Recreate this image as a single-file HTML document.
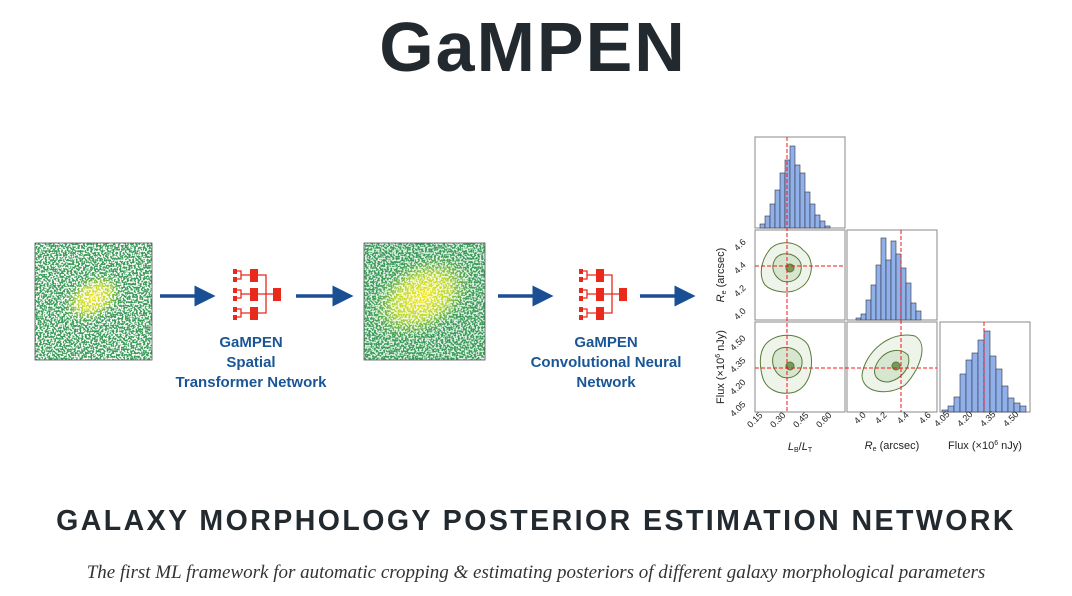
<!DOCTYPE html>
<html><head><meta charset="utf-8"><style>
body{margin:0;width:1072px;height:596px;background:#fff;position:relative;overflow:hidden;font-family:"Liberation Sans",sans-serif}
.t{position:absolute;left:0;width:1072px;text-align:center;white-space:nowrap}
.lbl{position:absolute;color:#1a5696;font-weight:bold;font-size:15px;line-height:20px;text-align:center;width:200px}
</style></head><body>
<div class="t" style="top:2px;font-size:70px;font-weight:bold;color:#22292f;letter-spacing:2px;line-height:90px;left:-3px">GaMPEN</div>
<div class="t" style="top:504px;font-size:28.5px;font-weight:bold;color:#22292f;letter-spacing:2.45px;line-height:34px">GALAXY MORPHOLOGY POSTERIOR ESTIMATION NETWORK</div>
<div class="t" style="top:562px;font-family:'Liberation Serif',serif;font-style:italic;font-size:19px;color:#333;line-height:22px">The first ML framework for automatic cropping &amp; estimating posteriors of different galaxy morphological parameters</div>
<div class="lbl" style="left:151px;top:333px">GaMPEN<br>Spatial<br>Transformer Network</div>
<div class="lbl" style="left:506px;top:333px">GaMPEN<br>Convolutional Neural<br>Network</div>
<svg width="1072" height="596" style="position:absolute;left:0;top:0" font-family="Liberation Sans, sans-serif">
<defs>
<filter id="n" x="0" y="0" width="100%" height="100%">
<feTurbulence type="fractalNoise" baseFrequency="0.55" numOctaves="1" seed="3"/>
<feColorMatrix type="matrix" values="0 0 0 0 1  0 0 0 0 1  0 0 0 0 1  0 0 0 8 -3.6"/>
</filter>
<radialGradient id="g1"><stop offset="0" stop-color="#f6e81a"/><stop offset="0.5" stop-color="#b5d734"/><stop offset="1" stop-color="#3fa55a" stop-opacity="0"/></radialGradient>
<marker id="ah" markerWidth="6" markerHeight="6" refX="5" refY="3" orient="auto" markerUnits="strokeWidth"><path d="M0,0L6,3L0,6z" fill="#1a4f93"/></marker>
<g id="net" fill="#e8291c" stroke="#e8291c" stroke-width="1.3">
<rect x="0" y="0" width="4" height="5" stroke="none"/><rect x="0" y="8" width="4" height="5" stroke="none"/>
<rect x="0" y="19" width="4" height="5" stroke="none"/><rect x="0" y="27" width="4" height="5" stroke="none"/>
<rect x="0" y="38" width="4" height="5" stroke="none"/><rect x="0" y="46" width="4" height="5" stroke="none"/>
<rect x="17" y="0" width="8" height="13" stroke="none"/><rect x="17" y="19" width="8" height="13" stroke="none"/><rect x="17" y="38" width="8" height="13" stroke="none"/>
<rect x="40" y="19" width="8" height="13" stroke="none"/>
<path d="M4,2H8V10H4M8,6H17M4,21H8V29H4M8,25H17M4,40H8V48H4M8,44H17M25,6H33V44H25M25,25H40" fill="none"/>
</g>
</defs>
<rect x="35" y="243" width="117" height="117" fill="#3a9c58"/>
<ellipse cx="93" cy="298" rx="36" ry="24" transform="rotate(-30 93 298)" fill="url(#g1)"/>
<rect x="35" y="243" width="117" height="117" filter="url(#n)"/>
<rect x="35" y="243" width="117" height="117" fill="none" stroke="#555" stroke-width="0.8"/>
<rect x="364" y="243" width="121" height="117" fill="#3a9c58"/>
<ellipse cx="422" cy="297" rx="60" ry="40" transform="rotate(-30 422 297)" fill="url(#g1)"/>
<rect x="364" y="243" width="121" height="117" filter="url(#n)" opacity="0.85"/>
<rect x="364" y="243" width="121" height="117" fill="none" stroke="#555" stroke-width="0.8"/>
<g stroke="#1a4f93" stroke-width="3.5" marker-end="url(#ah)">
<line x1="160" y1="296" x2="212" y2="296"/><line x1="296" y1="296" x2="350" y2="296"/>
<line x1="498" y1="296" x2="550" y2="296"/><line x1="640" y1="296" x2="692" y2="296"/>
</g>
<use href="#net" x="233" y="269"/>
<use href="#net" x="579" y="269"/>
<g fill="none" stroke="#888" stroke-width="1">
<rect x="755" y="137" width="90" height="91"/><rect x="755" y="230" width="90" height="90"/><rect x="847" y="230" width="90" height="90"/>
<rect x="755" y="322" width="90" height="90"/><rect x="847" y="322" width="90" height="90"/><rect x="940" y="322" width="90" height="90"/>
</g>
<g fill="#8fb0e8" stroke="#334" stroke-width="0.6">
<rect x="760" y="224" width="5" height="4"/><rect x="765" y="216" width="5" height="12"/><rect x="770" y="204" width="5" height="24"/><rect x="775" y="190" width="5" height="38"/><rect x="780" y="173" width="5" height="55"/><rect x="785" y="160" width="5" height="68"/><rect x="790" y="146" width="5" height="82"/><rect x="795" y="165" width="5" height="63"/><rect x="800" y="173" width="5" height="55"/><rect x="805" y="192" width="5" height="36"/><rect x="810" y="204" width="5" height="24"/><rect x="815" y="215" width="5" height="13"/><rect x="820" y="221" width="5" height="7"/><rect x="825" y="226" width="5" height="2"/>
<rect x="856" y="318" width="5" height="2"/><rect x="861" y="314" width="5" height="6"/><rect x="866" y="300" width="5" height="20"/><rect x="871" y="285" width="5" height="35"/><rect x="876" y="265" width="5" height="55"/><rect x="881" y="238" width="5" height="82"/><rect x="886" y="260" width="5" height="60"/><rect x="891" y="241" width="5" height="79"/><rect x="896" y="254" width="5" height="66"/><rect x="901" y="268" width="5" height="52"/><rect x="906" y="283" width="5" height="37"/><rect x="911" y="303" width="5" height="17"/><rect x="916" y="311" width="5" height="9"/>
<rect x="942" y="410" width="6" height="2"/><rect x="948" y="406" width="6" height="6"/><rect x="954" y="397" width="6" height="15"/><rect x="960" y="374" width="6" height="38"/><rect x="966" y="360" width="6" height="52"/><rect x="972" y="353" width="6" height="59"/><rect x="978" y="340" width="6" height="72"/><rect x="984" y="331" width="6" height="81"/><rect x="990" y="356" width="6" height="56"/><rect x="996" y="369" width="6" height="43"/><rect x="1002" y="386" width="6" height="26"/><rect x="1008" y="398" width="6" height="14"/><rect x="1014" y="403" width="6" height="9"/><rect x="1020" y="406" width="6" height="6"/>
</g>
<g fill="#d6e6cf" stroke="#587a3a" stroke-width="1">
<path d="M768,252 C775,240 795,240 803,250 C815,258 814,280 800,288 C790,295 772,292 765,285 C758,275 762,260 768,252Z" fill="#eef4ea"/>
<path d="M776,258 C783,250 798,254 801,264 C803,278 792,284 782,281 C773,276 770,266 776,258Z"/>
<circle cx="790" cy="268" r="4" fill="#7a9a5a"/>
<path d="M765,345 C775,332 800,332 808,345 C815,360 812,385 795,392 C780,396 765,390 762,375 C759,362 760,352 765,345Z" fill="#eef4ea"/>
<path d="M775,352 C783,343 800,348 802,360 C803,374 792,380 782,377 C773,372 770,360 775,352Z"/>
<circle cx="790" cy="366" r="4" fill="#7a9a5a"/>
<path d="M862,375 C865,352 890,330 915,336 C930,345 918,372 905,385 C890,396 862,394 862,375Z" fill="#eef4ea"/>
<path d="M875,368 C880,352 898,345 908,355 C912,368 900,380 888,382 C878,382 873,376 875,368Z"/>
<circle cx="896" cy="366" r="4" fill="#7a9a5a"/>
</g>
<g stroke="#f01818" stroke-width="1" stroke-dasharray="4,2">
<line x1="787" y1="137" x2="787" y2="412"/><line x1="755" y1="266" x2="845" y2="266"/>
<line x1="901" y1="230" x2="901" y2="412"/><line x1="755" y1="368" x2="937" y2="368"/>
<line x1="984" y1="322" x2="984" y2="412"/>
</g>
<g font-size="9" fill="#222">
<text x="742" y="247" transform="rotate(-45 742 247)" text-anchor="middle">4.6</text>
<text x="742" y="270" transform="rotate(-45 742 270)" text-anchor="middle">4.4</text>
<text x="742" y="293" transform="rotate(-45 742 293)" text-anchor="middle">4.2</text>
<text x="742" y="316" transform="rotate(-45 742 316)" text-anchor="middle">4.0</text>
<text x="740" y="345" transform="rotate(-45 740 345)" text-anchor="middle">4.50</text>
<text x="740" y="367" transform="rotate(-45 740 367)" text-anchor="middle">4.35</text>
<text x="740" y="389" transform="rotate(-45 740 389)" text-anchor="middle">4.20</text>
<text x="740" y="411" transform="rotate(-45 740 411)" text-anchor="middle">4.05</text>
<text x="757" y="422" transform="rotate(-45 757 422)" text-anchor="middle">0.15</text>
<text x="780" y="422" transform="rotate(-45 780 422)" text-anchor="middle">0.30</text>
<text x="803" y="422" transform="rotate(-45 803 422)" text-anchor="middle">0.45</text>
<text x="826" y="422" transform="rotate(-45 826 422)" text-anchor="middle">0.60</text>
<text x="862" y="420" transform="rotate(-45 862 420)" text-anchor="middle">4.0</text>
<text x="883" y="420" transform="rotate(-45 883 420)" text-anchor="middle">4.2</text>
<text x="905" y="420" transform="rotate(-45 905 420)" text-anchor="middle">4.4</text>
<text x="927" y="420" transform="rotate(-45 927 420)" text-anchor="middle">4.6</text>
<text x="944" y="421" transform="rotate(-45 944 421)" text-anchor="middle">4.05</text>
<text x="967" y="421" transform="rotate(-45 967 421)" text-anchor="middle">4.20</text>
<text x="990" y="421" transform="rotate(-45 990 421)" text-anchor="middle">4.35</text>
<text x="1013" y="421" transform="rotate(-45 1013 421)" text-anchor="middle">4.50</text>
</g>
<g font-size="11" fill="#222" text-anchor="middle">
<text x="800" y="450"><tspan font-style="italic">L</tspan><tspan font-size="7" dy="2">B</tspan><tspan dy="-2">/</tspan><tspan font-style="italic">L</tspan><tspan font-size="7" dy="2">T</tspan></text>
<text x="892" y="449"><tspan font-style="italic">R</tspan><tspan font-size="7" dy="2">e</tspan><tspan dy="-2"> (arcsec)</tspan></text>
<text x="985" y="449">Flux (×10<tspan font-size="7" dy="-4">6</tspan><tspan dy="4"> nJy)</tspan></text>
<text x="724" y="275" transform="rotate(-90 724 275)"><tspan font-style="italic">R</tspan><tspan font-size="7" dy="2">e</tspan><tspan dy="-2"> (arcsec)</tspan></text>
<text x="724" y="367" transform="rotate(-90 724 367)">Flux (×10<tspan font-size="7" dy="-4">6</tspan><tspan dy="4"> nJy)</tspan></text>
</g>
</svg>
</body></html>
